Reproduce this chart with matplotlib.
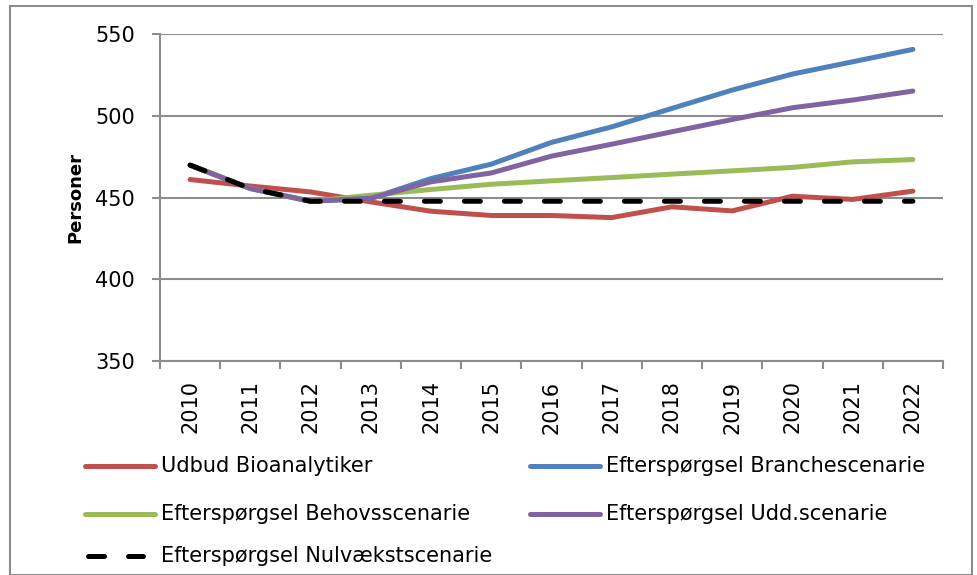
import matplotlib.pyplot as plt
from matplotlib.patches import Rectangle
from matplotlib.lines import Line2D

years = [str(y) for y in range(2010, 2023)]

udbud = [461, 457, 453.4, 447.3, 441.6, 439, 439, 437.7, 444.3, 441.8, 450.8, 448.8, 453.9]
branche = [469.8, 455.5, 447.7, 449.4, 461.6, 470.4, 483.7, 493.2, 504.5, 515.7, 525.5, 533, 540.6]
behovs = [469.8, 455.5, 447.7, 451.4, 454.9, 458.1, 460.2, 462.2, 464.3, 466.3, 468.4, 471.8, 473.2]
udd = [469.8, 455.5, 447.7, 449.6, 459.6, 465, 475.3, 482.6, 490.2, 497.7, 504.9, 509.6, 515.1]
nulvaekst = [469.8, 455.5, 447.7, 447.7, 447.7, 447.7, 447.7, 447.7, 447.7, 447.7, 447.7, 447.7, 447.7]

fig = plt.figure(figsize=(9.78, 5.75), dpi=100)
W, H = 978, 575
ax = fig.add_axes([160 / W, 1 - 361 / H, (943 - 160) / W, (361 - 34) / H])

# chart border
fig.patches.append(Rectangle((10 / W, 0), (972 - 10) / W, 1 - 6 / H,
                             transform=fig.transFigure, fill=False,
                             edgecolor="#8c8c8c", linewidth=1.5))

x = range(len(years))
lw = 3.6
dash = (0, (3.2, 4.8))
series = [
    (udbud, "#c0504d", "-", "Udbud Bioanalytiker", 3),
    (branche, "#4f81bd", "-", "Efterspørgsel Branchescenarie", 3),
    (behovs, "#9bbb59", "-", "Efterspørgsel Behovsscenarie", 3),
    (udd, "#8064a2", "-", "Efterspørgsel Udd.scenarie", 4),
    (nulvaekst, "black", dash, "Efterspørgsel Nulvækstscenarie", 5),
]
for vals, c, ls, lab, z in series:
    ax.plot(x, vals, color=c, lw=lw, ls=ls, label=lab, zorder=z,
            dash_capstyle="round", solid_capstyle="round")

ax.set_xlim(-0.5, len(years) - 0.5)
ax.set_ylim(350, 550)
ax.set_yticks(range(350, 551, 50))
ax.set_xticks(list(x))
ax.set_xticklabels(years, rotation=90)
ax.set_xticks([i - 0.5 for i in range(len(years) + 1)], minor=True)
ax.tick_params(axis="x", which="major", length=0, pad=14, labelsize=15)
ax.tick_params(axis="x", which="minor", length=6, width=1.5, color="#8c8c8c")
ax.tick_params(axis="y", length=6, width=1.5, color="#8c8c8c", labelsize=15, pad=12)
ax.grid(axis="y", color="#8c8c8c", lw=1.5)
ax.set_axisbelow(True)
for s in ["top", "right"]:
    ax.spines[s].set_visible(False)
for s in ["left", "bottom"]:
    ax.spines[s].set_color("#8c8c8c")
    ax.spines[s].set_linewidth(1.5)
ax.set_ylabel("Personer", fontsize=13, fontweight="bold", labelpad=8)

# legend, laid out in two columns like the original
legend_pos = [(85, 466), (530, 466), (85, 514), (530, 514), (85, 556)]
for (vals, c, ls, lab, z), (px, py) in zip(series, legend_pos):
    fy = 1 - py / H
    x0, x1 = (px + 3, px + 58) if ls != "-" else (px, px + 70)
    fig.add_artist(Line2D([x0 / W, x1 / W], [fy, fy], color=c, lw=lw, ls=ls,
                          dash_capstyle="round", solid_capstyle="round",
                          transform=fig.transFigure))
    fig.text((px + 76) / W, fy, lab, fontsize=15, va="center", ha="left")

fig.savefig("out.png", dpi=100)
